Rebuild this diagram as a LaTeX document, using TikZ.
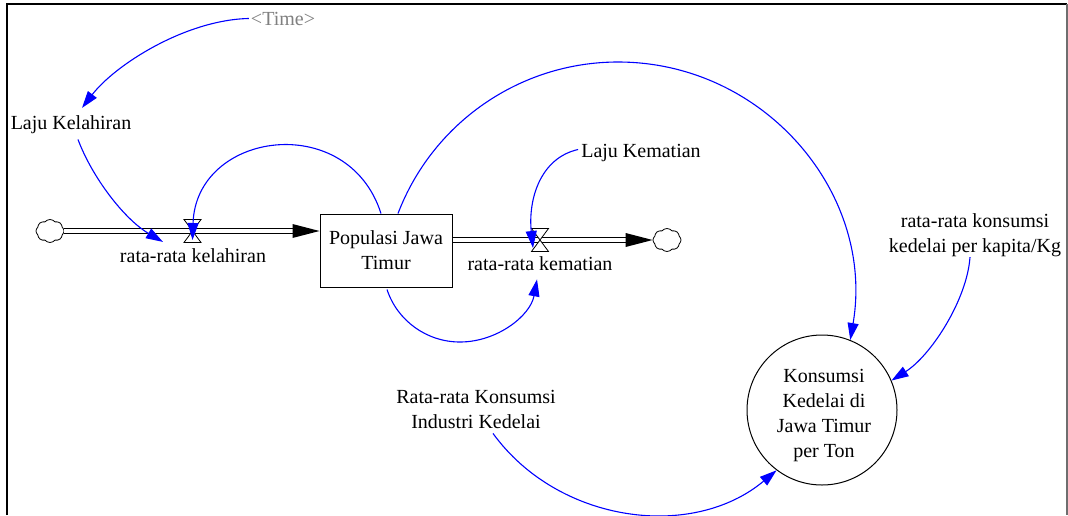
\documentclass[tikz,border=0pt]{standalone}
\usepackage{fontspec}
\setmainfont{Liberation Serif}
\usetikzlibrary{arrows.meta,shapes.symbols}
\definecolor{linkblue}{RGB}{0,0,255}
\definecolor{framegray}{RGB}{110,110,110}
\newcommand{\dfs}{\fontsize{20}{25}\selectfont}
\begin{document}
\begin{tikzpicture}[x=1pt,y=-1pt,
  lbl/.style={inner sep=0pt, font=\dfs, align=center},
  stockbox/.style={draw, line width=1pt, minimum width=132pt, minimum height=73pt, inner sep=0pt, font=\dfs, align=center},
  auxcircle/.style={draw, circle, line width=1pt, minimum size=150pt, inner sep=0pt},
  cloudy/.style={cloud, cloud puffs=8, cloud puff arc=100, aspect=1.2, draw, line width=0.8pt, inner sep=0pt, minimum width=28pt, minimum height=23pt},
  pipeline/.style={draw=black, double=white, double distance=4pt, line width=1pt},
  valvepath/.style={draw=black, fill=white, line width=0.8pt},
  link/.style={draw=linkblue, line width=1.1pt, -{Triangle[length=17pt,width=11pt]}},
]
\useasboundingbox (0,0) rectangle (1068,515);
% frame
\draw[line width=2pt] (7,515) -- (7,4) -- (1067,4);
\draw[framegray, line width=1.5pt] (1067,4) -- (1067,515);

% nodes
\node[lbl, text=gray, anchor=base] (time) at (283,25) {<Time>};
\node[lbl, anchor=base] (lk) at (71,129) {Laju Kelahiran};
\node[cloudy] (c1) at (50,231) {};
\node[stockbox] (pop) at (386,250.5) {Populasi Jawa\\Timur};
\node[cloudy] (c2) at (667,240) {};
\node[lbl, anchor=base] (rk) at (193,262) {rata-rata kelahiran};
\node[lbl, anchor=base] (rkm) at (540,270) {rata-rata kematian};
\node[lbl, anchor=base] (lkm) at (641,157) {Laju Kematian};
\node[lbl] (rkk) at (975,235.3) {rata-rata konsumsi\\kedelai per kapita/Kg};
\node[lbl] (rki) at (476,409) {Rata-rata Konsumsi\\Industri Kedelai};
\node[auxcircle, label={[lbl, yshift=-5pt, xshift=2pt, name=konstext]center:{Konsumsi\\Kedelai di\\Jawa Timur\\per Ton}}] (kons) at (822,410) {};

\coordinate (v1) at (192.5,231);
\coordinate (v2) at (540,240);
\coordinate (in1) at (c1.east -| pop.west);
\coordinate (out1) at (pop.east |- c2.west);

% flows
\draw[pipeline] (c1.east) -- ([xshift=-27pt]in1);
\fill (in1) -- ++(-27,-7) -- ++(0,14) -- cycle;
\draw[pipeline] (out1) -- ([xshift=-27pt]c2.west);
\fill (c2.west) -- ++(-27,-7) -- ++(0,14) -- cycle;

% valves
\draw[valvepath] (v1) ++(-8.5,-11.5) -- ++(17,0) -- ++(-17,23) -- ++(17,0) -- cycle;
\draw[valvepath] (v2) ++(-8.5,-11.5) -- ++(17,0) -- ++(-17,23) -- ++(17,0) -- cycle;

% links
\draw[link] ([xshift=-2pt]time.west) .. controls (185,20) and (115,65) .. ([xshift=11pt,yshift=7pt]lk.north);
\draw[link] ([xshift=7pt,yshift=-6pt]lk.south) .. controls (92,177) and (124,219) .. ([xshift=-30pt,yshift=6pt]rk.north);
\draw[link] ([xshift=-5pt]pop.north) .. controls (348,110) and (196,131) .. ([yshift=-9pt]v1);
\draw[link] ([xshift=-3pt,yshift=3pt]lkm.west) .. controls (540,158) and (528,200) .. ([xshift=-7pt,yshift=-8pt]v2);
\draw[link] ([xshift=12pt]pop.north) .. controls (433,122) and (520.7,62) .. (618,62) .. controls (763.9,62) and (875.2,193.1) .. (kons.68);
\draw[link] ([xshift=1pt,yshift=-2pt]pop.south) .. controls (397.3,320.7) and (426.7,342) .. (460,342) .. controls (497.2,342) and (530.4,315.6) .. ([xshift=-3pt,yshift=-9pt]rkm.south);
\draw[link] ([xshift=-5pt]rkk.south) .. controls (967,300) and (930.8,355.7) .. (kons.23);
\draw[link] ([xshift=17pt,yshift=-5pt]rki.south) .. controls (558,523) and (692,541) .. (kons.233);
\end{tikzpicture}
\end{document}
